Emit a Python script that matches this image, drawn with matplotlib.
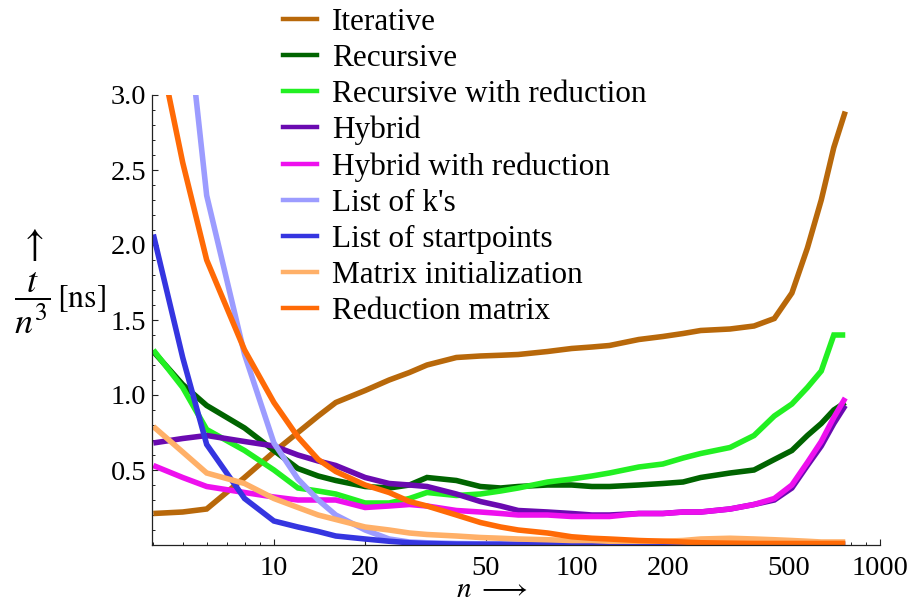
import matplotlib
matplotlib.use("Agg")
import matplotlib.pyplot as plt
from matplotlib.lines import Line2D
from matplotlib.ticker import FixedLocator, MultipleLocator, NullFormatter, LogLocator

plt.rcParams['font.family'] = ['Liberation Serif', 'DejaVu Serif']
plt.rcParams['mathtext.fontset'] = 'stix'

# problem sizes n
n = [4, 5, 6, 8, 10, 12, 14, 16, 20, 24, 28, 32, 40, 48, 56, 64, 80, 96, 112, 128,
     160, 192, 224, 256, 320, 384, 448, 512, 576, 640, 704, 768]

series_names = ["Iterative", "Recursive", "Recursive with reduction", "Hybrid",
                "Hybrid with reduction", "List of k's", "List of startpoints",
                "Matrix initialization", "Reduction matrix"]
series_colors = ["#b8680a", "#006400", "#22f022", "#6a0ab0", "#ee10ee",
                 "#9c9cff", "#3535e0", "#ffb068", "#ff6a06"]

iterative = [0.21, 0.22, 0.24, 0.45, 0.62, 0.75, 0.86, 0.95, 1.03, 1.10, 1.15, 1.20,
             1.25, 1.26, 1.265, 1.27, 1.29, 1.31, 1.32, 1.33, 1.37, 1.39, 1.41, 1.43,
             1.44, 1.46, 1.51, 1.68, 1.98, 2.30, 2.65, 2.89]
recursive = [1.29, 1.07, 0.93, 0.78, 0.63, 0.51, 0.46, 0.43, 0.39, 0.38, 0.40, 0.45,
             0.43, 0.39, 0.38, 0.39, 0.40, 0.40, 0.39, 0.39, 0.40, 0.41, 0.42, 0.45,
             0.48, 0.50, 0.57, 0.63, 0.73, 0.81, 0.90, 0.95]
recursive_red = [1.30, 1.05, 0.77, 0.63, 0.50, 0.38, 0.36, 0.34, 0.28, 0.28, 0.31, 0.35,
                 0.33, 0.34, 0.36, 0.38, 0.42, 0.44, 0.46, 0.48, 0.52, 0.54, 0.58, 0.61,
                 0.65, 0.73, 0.86, 0.94, 1.05, 1.16, 1.40, 1.40]
hybrid = [0.68, 0.71, 0.73, 0.69, 0.66, 0.60, 0.56, 0.53, 0.45, 0.41, 0.40, 0.39,
          0.34, 0.29, 0.26, 0.23, 0.22, 0.21, 0.20, 0.20, 0.21, 0.21, 0.22, 0.22,
          0.24, 0.27, 0.30, 0.38, 0.53, 0.66, 0.81, 0.93]
hybrid_red = [0.53, 0.45, 0.39, 0.35, 0.32, 0.30, 0.30, 0.30, 0.25, 0.26, 0.27, 0.26,
              0.23, 0.22, 0.21, 0.20, 0.20, 0.19, 0.19, 0.19, 0.21, 0.21, 0.22, 0.22,
              0.24, 0.27, 0.31, 0.40, 0.55, 0.69, 0.85, 0.98]
list_k = [5.6, 3.8, 2.33, 1.27, 0.68, 0.44, 0.30, 0.20, 0.10, 0.04, 0.02, 0.015,
          0.01, 0.008, 0.007, 0.006, 0.006, 0.005, 0.005, 0.005, 0.005, 0.005, 0.005, 0.005,
          0.005, 0.005, 0.005, 0.005, 0.005, 0.005, 0.005, 0.005]
list_start = [2.07, 1.25, 0.67, 0.31, 0.16, 0.12, 0.09, 0.06, 0.04, 0.025, 0.015, 0.01,
              0.006, 0.005, 0.005, 0.004, 0.004, 0.004, 0.004, 0.004, 0.004, 0.004, 0.004, 0.004,
              0.004, 0.004, 0.004, 0.004, 0.004, 0.004, 0.004, 0.004]
matrix_init = [0.79, 0.62, 0.48, 0.41, 0.31, 0.25, 0.20, 0.17, 0.12, 0.10, 0.08, 0.07,
               0.06, 0.05, 0.045, 0.04, 0.035, 0.03, 0.03, 0.025, 0.025, 0.025, 0.03, 0.04,
               0.045, 0.04, 0.035, 0.03, 0.025, 0.02, 0.02, 0.02]
reduction_matrix = [3.5, 2.55, 1.90, 1.30, 0.95, 0.72, 0.57, 0.49, 0.40, 0.35, 0.29, 0.26,
                    0.20, 0.15, 0.12, 0.10, 0.08, 0.055, 0.045, 0.04, 0.03, 0.025, 0.02, 0.015,
                    0.012, 0.01, 0.01, 0.01, 0.01, 0.01, 0.01, 0.01]

all_series = [iterative, recursive, recursive_red, hybrid, hybrid_red,
              list_k, list_start, matrix_init, reduction_matrix]

y_ticks = [0.5, 1.0, 1.5, 2.0, 2.5, 3.0]
y_tick_labels = ["0.5", "1.0", "1.5", "2.0", "2.5", "3.0"]
x_ticks = [10, 20, 50, 100, 200, 500, 1000]
x_tick_labels = ["10", "20", "50", "100", "200", "500", "1000"]

fig = plt.figure(figsize=(9.12, 5.98), dpi=100)
ax = fig.add_axes([152/912, 1-545/598, (880-152)/912, (545-95)/598])

for vals, col in zip(all_series, series_colors):
    ax.plot(n, vals, color=col, lw=4.0, solid_joinstyle='miter', solid_capstyle='butt')

ax.set_xscale('log')
ax.set_xlim(3.96, 1000)
ax.set_ylim(0, 3.0)
for s in ['top', 'right']:
    ax.spines[s].set_visible(False)
for s in ['left', 'bottom']:
    ax.spines[s].set_linewidth(0.9)
    ax.spines[s].set_color('#222222')

ax.yaxis.set_major_locator(FixedLocator(y_ticks))
ax.set_yticklabels(y_tick_labels)
ax.yaxis.set_minor_locator(MultipleLocator(0.1))
ax.xaxis.set_major_locator(FixedLocator(x_ticks))
ax.set_xticklabels(x_tick_labels)
ax.xaxis.set_minor_locator(LogLocator(base=10, subs=range(2, 10)))
ax.xaxis.set_minor_formatter(NullFormatter())
ax.tick_params(which='major', direction='in', length=4.5, width=0.8, labelsize=20.5, pad=4,
               color='#222222')
ax.tick_params(which='minor', direction='in', length=2.5, width=0.7, color='#222222')
ax.tick_params(axis='x', which='major', pad=8)

# axis labels
fig.text(32/912, 1-246/598, r"$\uparrow$", fontsize=28, ha='center', va='center')
fig.text(32/912, 1-303/598, r"$\dfrac{t}{n^{3}}$", fontsize=26, ha='center', va='center')
fig.text(81/912, 1-299/598, r"$[\mathrm{ns}]$", fontsize=23, ha='center', va='center')
fig.text(492/912, 1-597/598, r"$n\ \longrightarrow$", fontsize=21, ha='center', va='baseline')

handles = [Line2D([], [], color=c, lw=3.2) for c in series_colors]
fig.legend(handles, series_names, loc='upper left', bbox_to_anchor=(283/912, 1-8/598),
           frameon=False, fontsize=22.5, handlelength=1.08, handletextpad=0.5,
           labelspacing=0.223, borderpad=0, borderaxespad=0)

fig.savefig("out.png", dpi=100)
